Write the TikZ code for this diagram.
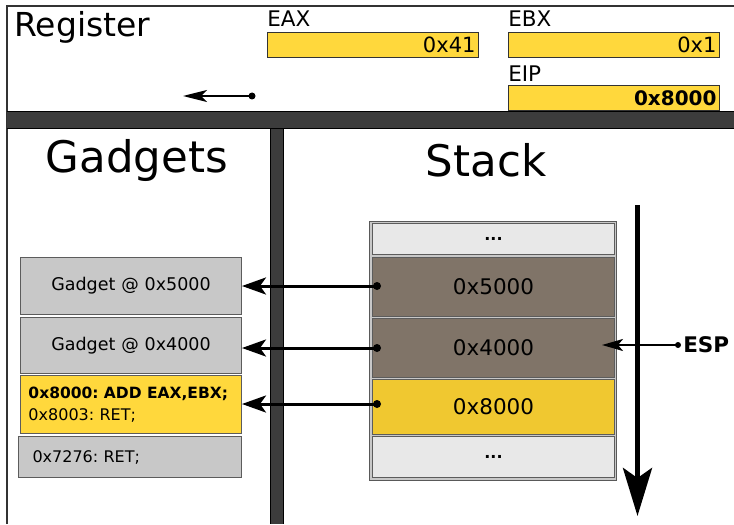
\documentclass[tikz,border=0pt]{standalone}
\usepackage{fontspec}
\setmainfont{DejaVu Sans}
\frenchspacing
\usetikzlibrary{arrows.meta}
\newdimen\pxu \pxu=0.75pt
\definecolor{regyellow}{HTML}{FFD83C}
\definecolor{stackyellow}{HTML}{F0C830}
\definecolor{stackbrown}{HTML}{807468}
\definecolor{lightcell}{HTML}{E8E8E8}
\definecolor{gadgetgray}{HTML}{C8C8C8}
\definecolor{barcol}{HTML}{3C3C3C}
\definecolor{edgecol}{HTML}{333333}
\newcommand{\fs}[1]{\fontsize{#1\pxu}{1.2\dimexpr#1\pxu\relax}\selectfont}
\begin{document}
\begin{tikzpicture}[x=0.75pt,y=-0.75pt,
  regbox/.style={draw=edgecol,line width=1\pxu,fill=regyellow,minimum height=25\pxu,
     text width=205\pxu,align=right,inner xsep=3\pxu,inner ysep=0pt,anchor=north west,font=\fs{21}},
  reglabel/.style={anchor=base west,inner sep=0pt,font=\fs{21.5}},
  gbox/.style={draw=edgecol!80,line width=1\pxu,fill=gadgetgray,anchor=north west,
     text width=201\pxu,inner xsep=10\pxu,inner ysep=0pt,font=\fs{16}},
  scell/.style={draw=edgecol!80,line width=1\pxu,anchor=north west,minimum width=242\pxu,
     inner sep=0pt,font=\fs{21.5}},
  ptr/.style={line width=2.25pt,-{Stealth[length=18pt,width=12.75pt,inset=4.5pt]}},
  title/.style={inner sep=0pt,font=\fs{43.5}}
]
\useasboundingbox (0,0) rectangle (734,524);
\fill[white] (0,0) rectangle (734,524);
% frame
\draw[edgecol,line width=1.5\pxu] (7,524) -- (7,6) -- (734,6);
\fill[barcol] (7,112) rectangle (734,129);
\draw[black,line width=1\pxu] (7,112) -- (734,112) (7,129) -- (734,129);
\fill[barcol] (270,129) rectangle (283,524);
\draw[black,line width=1\pxu] (270,129) -- (270,524) (283,129) -- (283,524);
% register panel
\node[anchor=base west,inner sep=0pt,font=\fs{33}] (regtitle) at (14,37) {Register};
\node[reglabel] (eaxl) at (267,26.5) {EAX};
\node[regbox] (eax) at (267,32) {0x41};
\node[reglabel] (ebxl) at (508,26.5) {EBX};
\node[regbox] (ebx) at (508,32) {0x1};
\node[reglabel] (eipl) at (508,82) {EIP};
\node[regbox,font=\fs{20}\bfseries] (eip) at (508,85) {0x8000};
\coordinate (rdot) at (252,96);
\coordinate (rtip) at (183,96);
\fill (rdot) circle (3.5\pxu);
\draw[line width=1.5pt,-{Stealth[length=18pt,width=9pt,inset=4.5pt]}] (rdot) -- (rtip);
% titles
\node[title] (gt) at (137,160) {Gadgets};
\node[title] (st) at (486,160) {Stack};
% gadgets
\node[gbox,minimum height=57\pxu,align=center,font=\fs{17.5}] (g1) at (20,257) {Gadget @ 0x5000};
\node[gbox,minimum height=56\pxu,align=center,font=\fs{17.5}] (g2) at (20,317) {Gadget @ 0x4000};
\node[gbox,minimum height=58\pxu,fill=regyellow,align=left,text width=205\pxu,inner xsep=8\pxu] (g3) at (20,375)
  {{\fs{15.5}\bfseries 0x8000: ADD EAX,EBX;}\\[3\pxu]0x8003: RET;};
\node[gbox,minimum height=41\pxu,align=left,text width=195\pxu,inner xsep=14\pxu] (g4) at (18,436) {0x7276: RET;};
% stack
\node[draw=gray!70!black,line width=1\pxu,fill=gadgetgray,anchor=north west,
  minimum width=247\pxu,minimum height=259\pxu,inner sep=0pt] (stk) at (369,221) {};
\node[scell,fill=lightcell,minimum height=31\pxu,font=\fs{16}\bfseries] (s1) at (372,223) {...};
\node[scell,fill=stackbrown,minimum height=59\pxu] (s2) at (372,257) {0x5000};
\node[scell,fill=stackbrown,minimum height=59\pxu] (s3) at (372,318) {0x4000};
\node[scell,fill=stackyellow,minimum height=55\pxu] (s4) at (372,379) {0x8000};
\node[scell,fill=lightcell,minimum height=41\pxu,font=\fs{16}\bfseries] (s5) at (372,436) {...};
% pointers
\coordinate (d2) at (377,286);
\coordinate (d3) at (377,348);
\coordinate (d4) at (377,404);
\foreach \d in {d2,d3,d4} \fill (\d) circle (4\pxu);
\draw[ptr] (d2) -- (g1.east |- d2);
\draw[ptr] (d3) -- (g2.east |- d3);
\draw[ptr] (d4) -- (g3.east |- d4);
% growth arrow
\coordinate (gtop) at (637.5,205);
\coordinate (gbot) at (637.5,516);
\draw[line width=3.75pt,-{Stealth[length=36pt,width=21.75pt,inset=7.5pt]}] (gtop) -- (gbot);
% ESP
\node[anchor=west,inner sep=0pt,font=\fs{21.5}\bfseries] (esp) at (683,345) {ESP};
\coordinate (edot) at (678,345);
\coordinate (etip) at (602,345);
\fill (edot) circle (3\pxu);
\draw[line width=1.5pt,-{Stealth[length=15.75pt,width=9pt,inset=3.75pt]}] (edot) -- (etip);
\end{tikzpicture}
\end{document}
